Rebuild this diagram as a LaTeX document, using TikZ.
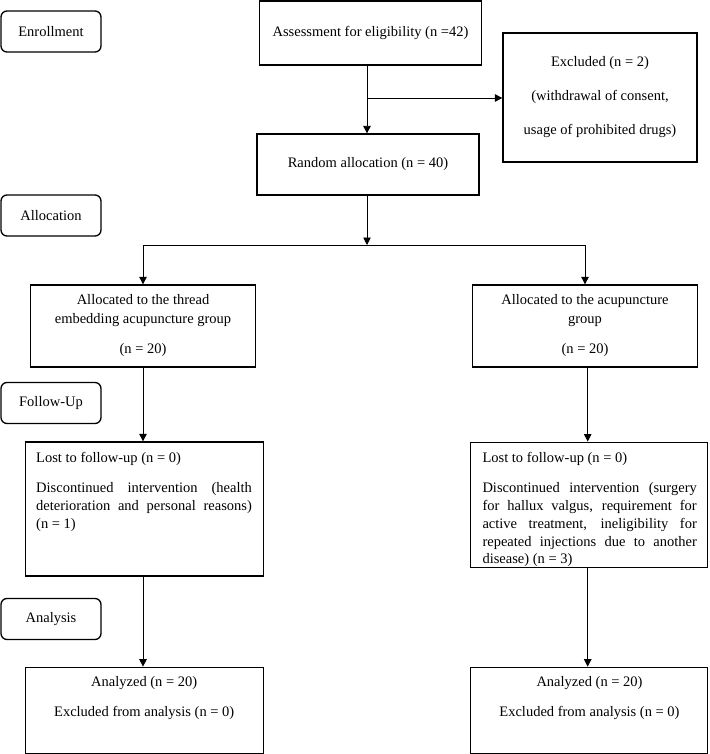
\documentclass[tikz,border=0pt]{standalone}
\usepackage{fontspec}
\setmainfont{Liberation Serif}
\usetikzlibrary{arrows.meta}
\setlength\parindent{0pt}
\setlength\parskip{0pt}
\begin{document}
\begin{tikzpicture}[x=1pt,y=-1pt,
  every node/.style={font=\fontsize{14.5}{17.8}\selectfont, inner sep=0pt},
  stage/.style={draw, rounded corners=6pt, line width=1.3pt, minimum width=100pt, minimum height=41pt},
  box/.style={draw, line width=1.3pt},
  arr/.style={line width=0.9pt, -{Triangle[length=7.5pt,width=7.5pt]}},
  ln/.style={line width=0.9pt}]
\useasboundingbox (0,0) rectangle (709,754);

% stage labels
\node[stage] (enroll) at (51,31.5) {Enrollment};
\node[stage] (allocl) at (51,215.5) {Allocation};
\node[stage] (follow) at (51,403) {Follow-Up};
\node[stage] (anal) at (51,619) {Analysis};

% top boxes
\node[box, minimum width=222pt, minimum height=64pt] (assess) at (370.5,33) {Assessment for eligibility (n =42)};
\node[box, minimum width=194pt, minimum height=129pt, align=center, font=\fontsize{14.5}{34}\selectfont] (excl) at (600,97.5) {Excluded (n = 2)\\(withdrawal of consent,\\usage of prohibited drugs)};
\node[box, minimum width=222pt, minimum height=61pt] (random) at (368,164.5) {Random allocation (n = 40)};

% allocation boxes
\node[box, minimum width=225pt, minimum height=82pt, align=center, font=\fontsize{14.5}{19}\selectfont] (allocA) at (143,326) {Allocated to the thread\\embedding acupuncture group\\[11pt](n = 20)};
\node[box, minimum width=225pt, minimum height=82pt, align=center, font=\fontsize{14.5}{19}\selectfont] (allocB) at (585,326) {Allocated to the acupuncture\\group\\[11pt](n = 20)};

% follow-up boxes
\node[box, minimum width=238pt, minimum height=134pt] (lostA) at (144.2,509) {};
\node[box, minimum width=237pt, minimum height=125pt] (lostB) at (589.3,504.7) {};
\node[anchor=north west, text width=215.7pt, align=justify] (lostAt) at (36,452.2) {Lost to follow-up (n = 0)\par\vspace{12pt}Discontinued intervention (health\linebreak deterioration and personal reasons)\linebreak (n = 1)};
\node[anchor=north west, text width=214.3pt, align=justify] (lostBt) at (482.3,452.5) {Lost to follow-up (n = 0)\par\vspace{12pt}Discontinued intervention (surgery\linebreak for hallux valgus, requirement for\linebreak active treatment, ineligibility for\linebreak repeated injections due to another\linebreak disease) (n = 3)};

% analysis boxes
\node[box, minimum width=238pt, minimum height=86pt] (anaA) at (144.2,710.3) {};
\node[box, minimum width=237pt, minimum height=86pt] (anaB) at (589.3,710.3) {};
\node[anchor=north, align=center, font=\fontsize{14.5}{30}\selectfont] (anaAt) at (144.2,676.5) {Analyzed (n = 20)\\Excluded from analysis (n = 0)};
\node[anchor=north, align=center, font=\fontsize{14.5}{30}\selectfont] (anaBt) at (589.5,676.5) {Analyzed (n = 20)\\Excluded from analysis (n = 0)};

% connectors
\coordinate (s1) at (367,98);
\draw[arr] (assess.south -| s1) -- (random.north -| s1);
\draw[arr] (s1) -- (excl.west |- s1);
\coordinate (s2) at (367,245);
\draw[arr] (random.south -| s2) -- (s2);
\draw[ln] (allocA.north |- s2) -- (allocB.north |- s2);
\draw[arr] (allocA.north |- s2) -- (allocA.north);
\draw[arr] (allocB.north |- s2) -- (allocB.north);
\draw[arr] (allocA.south) -- (allocA.south |- lostA.north);
\draw[arr] (allocA.south |- lostA.south) -- (allocA.south |- anaA.north);
\coordinate (rx) at (587.7,0);
\draw[arr] (allocB.south -| rx) -- (lostB.north -| rx);
\draw[arr] (lostB.south -| rx) -- (anaB.north -| rx);
\end{tikzpicture}
\end{document}
